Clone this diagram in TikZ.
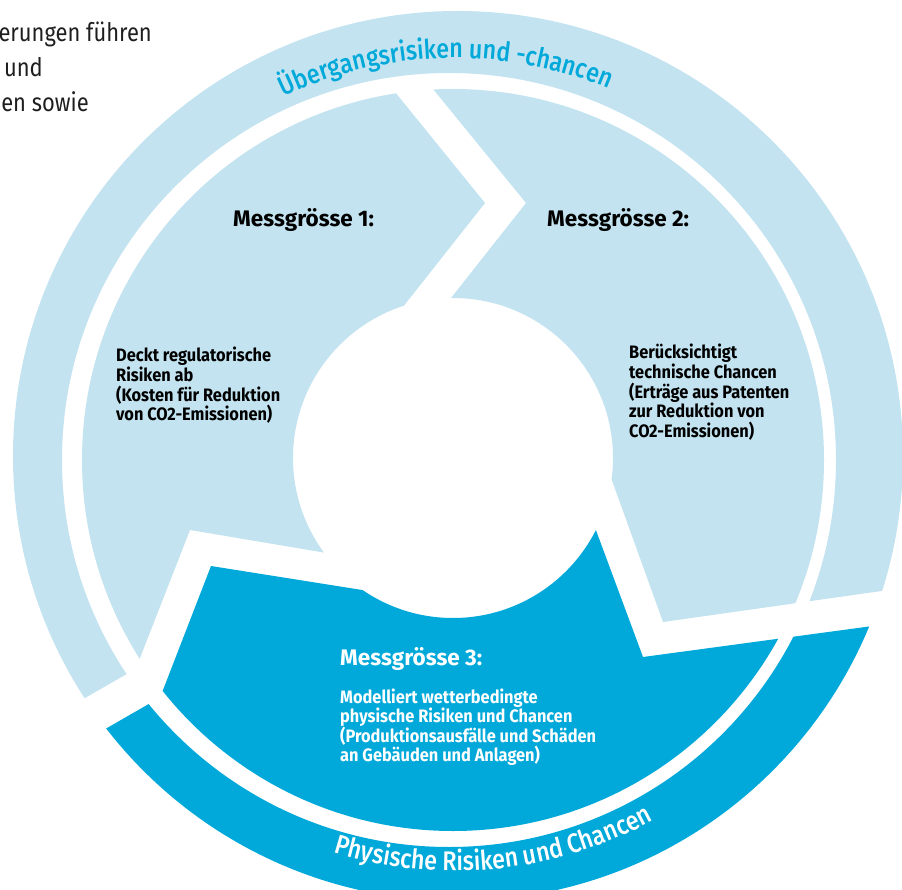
\documentclass[tikz,border=0pt]{standalone}
\usepackage{fontspec}
\setmainfont{Fira Sans}
\newfontfamily\condfont[FakeStretch=0.91]{Fira Sans}
\newfontfamily\curvefam[FakeStretch=0.86, UprightFont=* Medium]{Fira Sans}
\newfontfamily\bodyfam[FakeStretch=0.86]{Fira Sans}
\usetikzlibrary{decorations.text}
\definecolor{lblue}{HTML}{C2E3EF}
\definecolor{dblue}{HTML}{00A9DA}
\definecolor{bodytext}{HTML}{1E1E1E}
\newcommand{\segfont}{\condfont\bfseries\fontsize{18}{20}\selectfont}
\newcommand{\titlefont}{\bfseries\fontsize{22.5}{26}\selectfont}
\newcommand{\arcfont}{\curvefam\fontsize{27}{29}\selectfont}
\newcommand{\bodyfont}{\bodyfam\fontsize{25.5}{30}\selectfont}
\begin{document}
\begin{tikzpicture}[x=1pt,y=1pt,
  lab/.style={inner sep=0pt, anchor=base west},
  seglab/.style={lab, font=\segfont},
  titlelab/.style={lab, font=\titlefont},
  bodylab/.style={inner sep=0pt, anchor=base east, font=\bodyfont, text=bodytext}]
\useasboundingbox (0,0) rectangle (902,-890);
\clip (0,0) rectangle (902,-890);
% light outer ring
\begin{scope}
\clip (-115,-813) -- (245,-606) -- (449,-460) -- (663,-622) -- (1100,-560) -- (1100,200) -- (-300,200) -- (-300,-813) -- cycle;
\fill[lblue, even odd rule] (458,-456) circle[radius=445] (449,-460) circle[radius=387];
\end{scope}
% dark outer ring
\begin{scope}
\clip (-93,-843) -- (267,-636) -- (449,-460) -- (700,-649.3) -- (1100,-595.3) -- (1100,-1200) -- (-300,-1200) -- (-300,-843) -- cycle;
\fill[dblue, even odd rule] (458,-456) circle[radius=445] (449,-460) circle[radius=387];
\end{scope}
% segment 1
\begin{scope}
\clip (262,72) -- (485,-203) -- (372.5,-345.5) -- (453,-458) -- (380,-562) -- (190,-530) -- (115,-722) -- (-200,-722) -- (-200,72) -- cycle;
\fill[lblue, even odd rule] (453,-460) circle[radius=371] (453,-458) circle[radius=160];
\end{scope}
% segment 2
\begin{scope}
\clip (293.5,82) -- (526,-203) -- (413.5,-345.5) -- (453,-458) -- (583,-400) -- (663,-622) -- (1100,-560) -- (1100,82) -- cycle;
\fill[lblue, even odd rule] (453,-460) circle[radius=371] (453,-458) circle[radius=160];
\end{scope}
% segment 3
\begin{scope}
\clip (211,-566) -- (400,-596) -- (453,-458) -- (569.4,-458.6) -- (643,-657) -- (1100,-595.3) -- (1100,-1100) -- (-200,-1100) -- (67,-938) -- cycle;
\fill[dblue, even odd rule] (453,-460) circle[radius=371] (453,-458) circle[radius=160];
\end{scope}
% curved labels
\path[decorate, decoration={text along path, text align=center, text color=dblue,
  text={|\arcfont|Übergangsrisiken und -chancen}}]
  (455,-458) ++(141.4:400) arc[start angle=141.4, end angle=41.4, radius=400];
\path[decorate, decoration={text along path, text align=center, text color=white,
  text={|\arcfont|Physische Risiken und Chancen}}]
  (455,-458) ++(225.8:413) arc[start angle=225.8, end angle=325.8, radius=413];
% titles
\node[titlelab] (m1) at (233,-227) {Messgrösse 1:};
\node[titlelab] (m2) at (547,-227) {Messgrösse 2:};
\node[titlelab, text=white] (m3) at (340,-665) {Messgrösse 3:};
% segment 1 text
\node[seglab] (s1a) at (116,-362) {Deckt regulatorische};
\node[seglab] (s1b) at (116,-381.5) {Risiken ab};
\node[seglab] (s1c) at (116,-401) {(Kosten für Reduktion};
\node[seglab] (s1d) at (116,-420.5) {von CO2-Emissionen)};
% segment 2 text
\node[seglab] (s2a) at (629,-359) {Berücksichtigt};
\node[seglab] (s2b) at (629,-378.6) {technische Chancen};
\node[seglab] (s2c) at (629,-398.2) {(Erträge aus Patenten};
\node[seglab] (s2d) at (629,-417.8) {zur Reduktion von};
\node[seglab] (s2e) at (629,-437.4) {CO2-Emissionen)};
% segment 3 text
\node[seglab, text=white] (s3a) at (340,-703) {Modelliert wetterbedingte};
\node[seglab, text=white] (s3b) at (340,-722.6) {physische Risiken und Chancen};
\node[seglab, text=white] (s3c) at (340,-742.2) {(Produktionsausfälle und Schäden};
\node[seglab, text=white] (s3d) at (340,-761.8) {an Gebäuden und Anlagen)};
% cut-off body text, top left
\node[bodylab] (b1) at (152,-42) {erungen führen};
\node[bodylab] (b2) at (43,-77) {und};
\node[bodylab] (b3) at (89,-112) {en sowie};
\end{tikzpicture}
\end{document}
